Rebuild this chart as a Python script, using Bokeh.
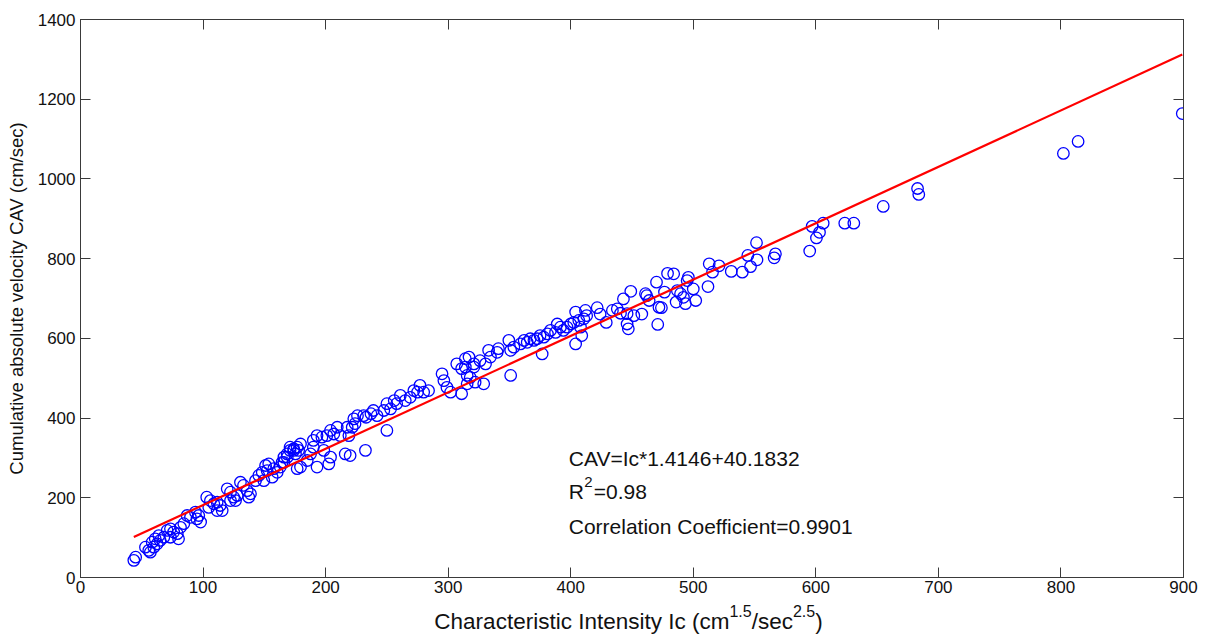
from bokeh.plotting import figure
from bokeh.models import Range1d, FixedTicker, LinearAxis, Label, CustomJSTickFormatter
from bokeh.layouts import column
from bokeh.embed import file_html
from bokeh.resources import INLINE

# Characteristic intensity Ic (x) and CAV (y)
ic = [43.5, 45, 53, 55.7, 57, 59.8, 58.5, 62.6, 61, 65, 63.9, 68, 70.7, 73.4, 76, 79, 80, 73.4,
      81.6, 84.3, 87, 89.7, 93.8, 96.5, 98, 95, 103, 106, 104.7, 108.8, 111.5, 114, 115.6, 111.5,
      119.7, 122.4, 125, 127.9, 126.5, 122.4, 130.5, 133, 136, 138.7, 137.3, 142.8, 145.5, 148.3,
      151, 153.6, 152.3, 149.6, 156.4, 157.7, 160.5, 163, 166, 168.7, 171, 174, 176.8, 175.4, 176.8,
      164.5, 166, 168.6, 171, 174, 178, 179.5, 185, 193, 179.5, 187.7, 190, 190, 193, 197, 198.5,
      202.6, 204, 201, 204, 206.7, 209.5, 212, 216, 220, 219, 217.6, 221.7, 224, 223, 226, 231,
      233, 237, 239, 242, 232.5, 247.5, 250, 253, 250, 256, 258, 261, 265, 269, 272, 277, 275, 280,
      284, 295, 296.5, 299, 302, 307, 314, 321, 315.5,
      311, 311, 314, 317, 318, 321, 322, 315.5, 329, 326, 330.5, 333, 334.5, 340, 341, 349.5, 351,
      353.6, 351, 359, 362, 364.5, 367, 370, 372.6, 375, 378, 376.7, 381, 383.5, 387.6, 389, 391.6,
      394, 397, 400, 402.5, 404, 406.6, 408, 409, 410.7, 404, 412, 413, 421.6, 424, 429, 434, 438,
      440.6, 443, 446, 446, 447, 449, 451.5, 458, 461,
      462, 464, 470, 471, 472, 474, 476.5, 479, 484, 486, 487, 489.6, 492, 493.6, 495, 496, 500, 502,
      512, 513, 515.7, 521, 531, 540, 544.5, 546.7, 551.6, 552, 566, 567, 595, 597, 600.5, 603, 606,
      623.6, 631, 655,
      683, 684, 802, 814, 899]
cav = [43, 51, 76, 68, 63.5, 76, 88.6, 84.5, 97, 93, 105, 101, 118, 122, 114, 110, 97, 101,
       126, 135, 155.5, 151, 164, 155.5, 139, 147, 201.5, 193, 176, 185, 189, 180.6, 168, 168,
       222.5, 214, 201.5, 205.7, 193, 193, 239, 231, 218, 210, 201.5, 243, 256, 264,
       281, 285, 268, 243, 251.6, 273, 264, 277, 289, 302, 319, 323, 327, 310, 273,
       289, 302, 310, 327, 319, 319, 335, 293.5, 277, 277, 310, 327, 344, 356, 352, 319,
       285, 302, 356, 369, 360, 377, 356, 310, 306, 356, 377, 377, 386, 398, 406, 406,
       402, 411, 419, 406, 319, 419, 436, 423, 369, 444, 436, 457, 444, 452, 469, 482, 465, 465,
       469, 511, 494, 477, 465, 536, 549, 528, 507,
       461, 524, 528, 553, 502, 536, 490, 486, 486, 544, 536, 570, 553, 565, 574, 595, 570,
       578, 507, 586, 595, 590, 599, 595, 599, 607, 603, 561, 611, 620, 615, 636, 628,
       620, 628, 636, 640, 666, 645, 628, 607, 649, 586, 670, 657, 677, 661, 640, 670, 674,
       663, 699, 662, 636, 624, 718, 657, 661, 712,
       707, 695, 741, 635, 678, 677, 716, 763, 762, 691, 720, 712, 703, 687, 745, 753, 724, 695,
       730, 787, 766, 782, 768, 766, 808, 780, 840, 797, 802, 812, 819, 881, 852, 866, 889,
       889, 889, 931,
       976, 961, 1064, 1094, 1164]

# Linear fit reported on the chart
slope = 1.4146
intercept = 40.1832

x_ticks = [0, 100, 200, 300, 400, 500, 600, 700, 800, 900]
y_ticks = [0, 200, 400, 600, 800, 1000, 1200, 1400]

eq_text = "CAV=Ic*1.4146+40.1832"
r2_parts = ["R", "2", "=0.98"]
corr_text = "Correlation Coefficient=0.9901"
x_label_parts = [("Characteristic Intensity Ic (cm", False), ("1.5", True), ("/sec", False),
                 ("2.5", True), (")", False)]
y_label = "Cumulative absolute velocity CAV (cm/sec)"

FONT = "Liberation Sans"
AX = "#3a3a3a"
TXT = "#111111"
FW, FH = 1103, 558
LEFT, TOP, RIGHT, BOTTOM = 80, 19, 23, 24

p = figure(frame_width=FW, frame_height=FH, title=None,
           x_range=Range1d(0, 900), y_range=Range1d(0, 1400),
           output_backend="svg", toolbar_location=None,
           min_border_left=LEFT, min_border_right=RIGHT, min_border_top=TOP,
           min_border_bottom=BOTTOM,
           background_fill_color="white", border_fill_color="white")
p.grid.visible = False
p.outline_line_color = AX
p.outline_line_width = 1

def style_axis(ax, ticks, show_labels=True):
    ax.ticker = FixedTicker(ticks=ticks)
    ax.axis_line_color = AX
    ax.major_tick_line_color = AX
    ax.major_tick_in = 10
    ax.major_tick_out = 0
    ax.minor_tick_in = 0
    ax.minor_tick_out = 0
    ax.major_label_text_font = FONT
    ax.major_label_text_color = TXT
    ax.axis_label = None
    ax.axis_label_standoff = 0
    if show_labels:
        ax.major_label_text_font_size = "17px"
        ax.major_label_standoff = 3
    else:
        ax.formatter = CustomJSTickFormatter(code="return ''")
        ax.major_label_text_font_size = "1px"
        ax.major_label_standoff = 0

style_axis(p.xaxis[0], x_ticks)
style_axis(p.yaxis[0], y_ticks)
p.yaxis[0].major_label_standoff = 5
p.yaxis[0].axis_label = y_label
p.yaxis[0].axis_label_text_font = FONT
p.yaxis[0].axis_label_text_font_size = "18.5px"
p.yaxis[0].axis_label_text_font_style = "normal"
p.yaxis[0].axis_label_text_color = TXT
p.yaxis[0].axis_label_standoff = 8

top_ax = LinearAxis()
style_axis(top_ax, x_ticks, show_labels=False)
p.add_layout(top_ax, "above")
right_ax = LinearAxis()
style_axis(right_ax, y_ticks, show_labels=False)
p.add_layout(right_ax, "right")

p.scatter(ic, cav, marker="circle", size=11.5, fill_color=None,
          line_color="#0000ff", line_width=1.3)

x0, x1 = min(ic), max(ic)
p.line([x0, x1], [slope * x0 + intercept, slope * x1 + intercept],
       line_color="#ff0000", line_width=2.2)

# in-plot annotation
ANN = "21px"
ann_x = 398.4
def ann(text, y, size=ANN, dx=0, dy=0):
    p.add_layout(Label(x=ann_x, y=y, x_offset=dx, y_offset=dy, text=text, text_font=FONT,
                       text_font_size=size, text_baseline="alphabetic", text_color=TXT))
ann(eq_text, 276.7, dy=8.4)
ann(r2_parts[0], 197.4, dy=7.5)
ann(r2_parts[1], 197.4, size="15px", dx=15.5, dy=16.5)
ann(r2_parts[2], 197.4, dx=25, dy=7.5)
ann(corr_text, 109.6, dy=7)

# x-axis label (with superscripts) drawn in a thin strip below the plot;
# the strip's frame is aligned with the main frame (left edge at page x = LEFT)
STRIP_H = 637 - (TOP + FH + BOTTOM)
lab = figure(frame_width=FW, frame_height=STRIP_H, title=None,
             x_range=Range1d(0, 1), y_range=Range1d(0, 1),
             x_axis_location=None, y_axis_location=None,
             output_backend="svg", toolbar_location=None, min_border=0,
             min_border_left=LEFT, min_border_right=RIGHT, min_border_top=0, min_border_bottom=0,
             background_fill_color="white", border_fill_color="white")
lab.grid.visible = False
lab.outline_line_color = None

W = {'C': 722, 'h': 556, 'a': 556, 'r': 333, 'c': 500, 't': 278, 'e': 556, 'i': 222, 's': 500,
     ' ': 278, 'I': 278, 'n': 556, 'y': 500, '(': 333, 'm': 833, ')': 333, '/': 278, '1': 556,
     '.': 278, '5': 556, '2': 556}
MAIN, SUP = 22.5, 16
def tw(s, size):
    return sum(W.get(ch, 556) for ch in s) / 1000.0 * size
total = sum(tw(t, SUP if sup else MAIN) for t, sup in x_label_parts)
cx = FW / 2 - 3.5 - total / 2          # relative to the strip frame's left edge
for t, sup in x_label_parts:
    size = SUP if sup else MAIN
    lab.add_layout(Label(x=cx, y=(26.5 if sup else 16), x_units="screen", y_units="screen",
                         text=t, text_font=FONT, text_font_size=f"{size}px",
                         text_baseline="alphabetic", text_align="left", text_color=TXT))
    cx += tw(t, size)

layout = column(p, lab, spacing=0)
open("out.html", "w").write(file_html(layout, INLINE))
